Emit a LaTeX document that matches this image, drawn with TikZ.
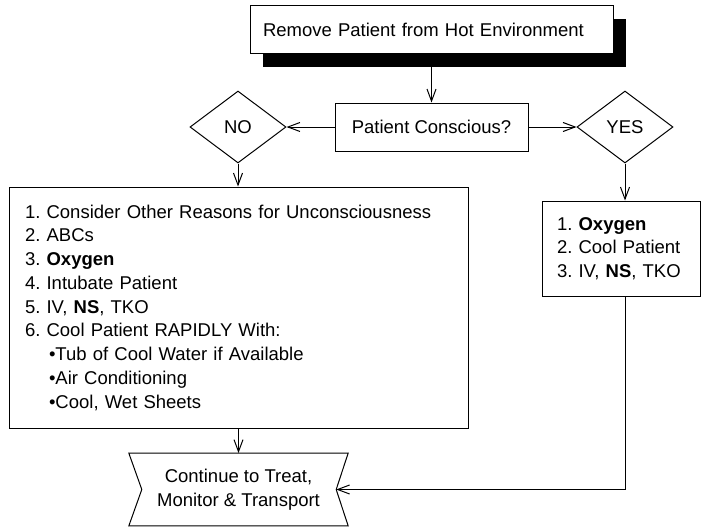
\documentclass[tikz,border=0pt]{standalone}
\usepackage{fontspec}
\setmainfont{Liberation Sans}
\usetikzlibrary{arrows.meta,shapes.geometric,shadows,calc}
\begin{document}
\frenchspacing
\begin{tikzpicture}[x=1pt,y=-1pt,
  txt/.style={font=\fontsize{18.5}{23.75}\selectfont},
  box/.style={txt, draw, line width=1pt, fill=white, inner sep=0pt},
  choice/.style={box, diamond, minimum width=96pt, minimum height=72pt},
  flow/.style={line width=1pt, -{Straight Barb[length=12pt,width=9pt,line width=1pt]}},
  link/.style={line width=1pt}]
\useasboundingbox (0,0) rectangle (701,527);

% start box with solid shadow
\node[box, minimum width=363pt, minimum height=48pt, text width=337pt, align=left,
      drop shadow={shadow xshift=13pt, shadow yshift=-13pt, fill=black, opacity=1}]
  (remove) at (431.5,30) {Remove Patient from Hot Environment};

% question and answers
\node[box, minimum width=193pt, minimum height=48pt] (ask) at (431.5,127) {Patient Conscious?};
\node[choice] (no) at (238,127) {NO};
\node[choice] (yes) at (625,127) {YES};

% treatment lists
\node[box, minimum width=459pt, minimum height=241pt, text width=427pt, align=left]
  (uncon) at (238.5,307.5) {1. Consider Other Reasons for Unconsciousness\\
  2. ABCs\\
  3. \textbf{Oxygen}\\
  4. Intubate Patient\\
  5. IV, \textbf{NS}, TKO\\
  6. Cool Patient RAPIDLY With:\\
  \hspace*{24pt}•Tub of Cool Water if Available\\
  \hspace*{24pt}•Air Conditioning\\
  \hspace*{24pt}•Cool, Wet Sheets};
\node[box, minimum width=158pt, minimum height=95pt, text width=128pt, align=left]
  (con) at (621,248.5) {1. \textbf{Oxygen}\\
  2. Cool Patient\\
  3. IV, \textbf{NS}, TKO};

% final step, outlined with notched sides
\node[txt, minimum width=219pt, minimum height=72.5pt, align=center, inner sep=0pt]
  (cont) at (238.5,489.5) {Continue to Treat,\\Monitor \& Transport};
\draw[link] (cont.north west) -- (cont.north east)
  -- ($(cont.east)+(-12,0)$) coordinate (contin)
  -- (cont.south east) -- (cont.south west)
  -- ($(cont.west)+(13,0)$) -- cycle;

% connectors
\draw[flow] (remove.south -| ask.north) -- (ask.north);
\draw[flow] (ask.west) -- (no.east);
\draw[flow] (ask.east) -- (yes.west);
\draw[flow] (no.south) -- (no.south |- uncon.north);
\draw[flow] (yes.south) -- (yes.south |- con.north);
\draw[flow] (cont.north |- uncon.south) -- (cont.north);
\draw[flow] (yes.south |- con.south) |- (contin);
\end{tikzpicture}
\end{document}
